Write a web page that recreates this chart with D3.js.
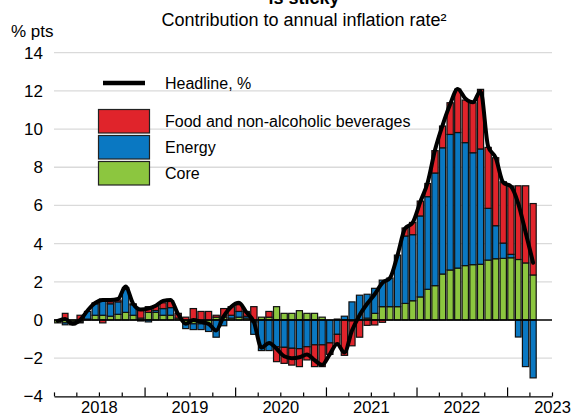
<!DOCTYPE html>
<html><head><meta charset="utf-8">
<script src="https://cdn.jsdelivr.net/npm/d3@7"></script>
<style>
body{margin:0;background:#fff}
text{font-family:"Liberation Sans",Arial,sans-serif;fill:#000}
</style>
</head><body>
<svg id="c" width="572" height="418"></svg>
<script>
// ---- data (monthly, Jan 2018 .. Apr 2023), % pts ----
const firstMonth = "2018-01";
const core = [
 -0.15,-0.15,-0.10,-0.10, 0.05, 0.25, 0.25, 0.20, 0.30, 0.40, 0.25, 0.10,
  0.40, 0.40, 0.25, 0.25, 0.10,-0.15,-0.20,-0.20,-0.20, 0.15, 0.15, 0.10,
  0.15, 0.10,-0.10, 0.15, 0.15, 0.70, 0.35, 0.35, 0.49, 0.35, 0.35, 0.15,
  0.00, 0.05, 0.00,-0.05, 0.00, 0.10, 0.35, 0.70, 0.70, 0.70, 0.87, 1.01,
  1.21, 1.61, 1.80, 2.41, 2.62, 2.72, 2.85, 2.90, 2.92, 3.14, 3.21, 3.23,
  3.26, 3.17, 2.99, 2.36];
const energy = [
  0.00,-0.10,-0.15,-0.05, 0.40, 0.60, 0.85, 0.65, 0.65, 1.20, 0.55,-0.05,
 -0.10, 0.10, 0.35, 0.40, 0.00,-0.30,-0.30,-0.30,-0.40,-0.90,-0.30, 0.15,
  0.30, 0.10,-0.65,-1.60,-1.60,-1.40,-1.43,-1.48,-1.50,-1.40,-1.30,-1.30,
 -1.20,-0.75, 0.20, 0.95, 1.30, 1.25, 1.31, 1.39, 1.50, 2.70, 3.53, 3.46,
  4.24, 4.85, 5.90, 6.61, 7.10, 7.10, 6.44, 5.86, 6.04, 2.71, 1.73, 0.80,
  0.18,-0.89,-2.44,-3.03];
const food = [
  0.00, 0.35, 0.00, 0.25, 0.00, 0.05,-0.15, 0.10, 0.10, 0.10, 0.05, 0.40,
  0.30, 0.25, 0.30, 0.35, 0.25, 0.15, 0.60, 0.45, 0.45, 0.10, 0.45, 0.45,
  0.35, 0.25, 0.70, 0.00, 0.30,-0.78,-0.84,-0.88,-0.94,-0.69,-1.14,-1.14,
 -0.60,-0.47,-1.85,-1.30,-0.90,-0.28,-0.26,-0.12, 0.00, 0.00, 0.42, 0.64,
  0.78, 0.69, 1.17, 1.14, 1.66, 2.27, 2.23, 2.62, 3.12, 3.19, 3.56, 3.21,
  3.58, 3.86, 4.04, 3.74];
const headline = [
 -0.05, 0.05,-0.20, 0.00, 0.50, 0.90, 1.05, 1.05, 1.10, 1.75, 0.85, 0.55,
  0.60, 0.75, 1.00, 1.05, 0.30,-0.20, 0.00,-0.10,-0.20,-0.55, 0.20, 0.70,
  0.90, 0.40,-0.10,-1.45,-1.20,-1.50,-1.90,-2.00,-1.95,-1.80,-2.10,-2.35,
 -1.80,-1.25,-1.70,-0.55, 0.25, 0.85, 1.35, 1.95, 2.20, 3.40, 4.80, 5.10,
  6.20, 7.20, 8.90,10.20,11.30,12.10,11.60,11.40,12.00, 9.10, 8.50, 7.20,
  7.00, 6.10, 4.60, 3.00];
const yTicks = [-4,-2,0,2,4,6,8,10,12,14];
const yearLabels = ["2018","2019","2020","2021","2022","2023"];
const legendLabels = ["Headline, %","Food and non-alcoholic beverages","Energy","Core"];
const keys = ["core","energy","food"];
const colors = {core:"#8cc63f", energy:"#0a78c2", food:"#e0242b"};

// ---- chart ----
const svg = d3.select("#c");
const parse = d3.timeParse("%Y-%m");
const t0 = parse(firstMonth);
const months = core.map((_, i) => d3.timeMonth.offset(t0, i));
const rows = months.map((m, i) => ({date: m, core: core[i], energy: energy[i], food: food[i], headline: headline[i]}));

const x = d3.scaleTime().domain([t0, d3.timeMonth.offset(t0, 66)]).range([54, 552]);
const y = d3.scaleLinear().domain([-4, 14]).range([396.4, 52.7]);
const mid = d => (x(d) + x(d3.timeMonth.offset(d, 1))) / 2;
const mw = d => x(d3.timeMonth.offset(d, 1)) - x(d);

// gridlines
svg.append("g").selectAll("line").data(yTicks.filter(v => v !== 0 && v !== -4)).join("line")
  .attr("x1", 54).attr("x2", 552).attr("y1", d => y(d)).attr("y2", d => y(d))
  .attr("stroke", "#dadada").attr("stroke-width", 1.3);

// y labels
const ya = svg.append("g").attr("transform", "translate(43,0)")
  .call(d3.axisLeft(y).tickValues(yTicks).tickSize(0).tickPadding(0).tickFormat(d3.format("d")));
ya.select(".domain").remove();
ya.selectAll("text").attr("font-size", 17).style("font-family", "Liberation Sans, Arial, sans-serif");

// stacked bars
const series = d3.stack().keys(keys).offset(d3.stackOffsetDiverging)(rows);
svg.append("g").selectAll("g").data(series).join("g")
  .attr("fill", s => colors[s.key])
  .selectAll("rect").data(s => s).join("rect")
  .attr("x", d => mid(d.data.date) - mw(d.data.date) * 0.41)
  .attr("width", d => mw(d.data.date) * 0.82)
  .attr("y", d => y(Math.max(d[0], d[1])))
  .attr("height", d => Math.abs(y(d[0]) - y(d[1])))
  .attr("stroke", "#111").attr("stroke-width", 1.2);

// zero line
svg.append("line").attr("x1", 54).attr("x2", 552).attr("y1", y(0)).attr("y2", y(0))
  .attr("stroke", "#000").attr("stroke-width", 1.5);

// headline line
svg.append("path").datum(rows)
  .attr("fill", "none").attr("stroke", "#000").attr("stroke-width", 4)
  .attr("stroke-linejoin", "round").attr("stroke-linecap", "round")
  .attr("d", d3.line().x(d => mid(d.date)).y(d => y(d.headline)).curve(d3.curveMonotoneX));

// x axis with quarterly ticks (upward), taller at year starts
const qTicks = d3.timeMonth.every(3).range(t0, d3.timeMonth.offset(t0, 67));
const xa = svg.append("g").attr("transform", `translate(0,${y(-4)})`)
  .call(d3.axisBottom(x).tickValues(qTicks).tickSizeInner(-4).tickSizeOuter(0).tickFormat(""));
xa.select(".domain").attr("stroke", "#000").attr("stroke-width", 1.4);
xa.selectAll(".tick line").attr("stroke", "#000").attr("stroke-width", 1.2)
  .attr("y2", d => (d.getMonth() === 0 && d > t0) ? -9 : -4);

const labelDates = yearLabels.map(s => parse(s + "-07"));
const xl = svg.append("g").attr("transform", `translate(0,${y(-4)})`)
  .call(d3.axisBottom(x).tickValues(labelDates).tickSize(0).tickPadding(5).tickFormat((d, i) => yearLabels[i]));
xl.select(".domain").remove();
xl.selectAll("text").attr("font-size", 16.5).style("font-family", "Liberation Sans, Arial, sans-serif");

// titles
svg.append("text").attr("x", 304).attr("y", 4).attr("text-anchor", "middle")
  .attr("font-size", 18).attr("font-weight", "bold").text("is sticky");
svg.append("text").attr("x", 304).attr("y", 26).attr("text-anchor", "middle")
  .attr("font-size", 18).text("Contribution to annual inflation rate²");
svg.append("text").attr("x", 11).attr("y", 37).attr("font-size", 17).text("% pts");

// legend
const lg = svg.append("g");
lg.append("line").attr("x1", 103).attr("x2", 145).attr("y1", 83).attr("y2", 83)
  .attr("stroke", "#000").attr("stroke-width", 4.5);
lg.append("text").attr("x", 165).attr("y", 83).attr("dy", "0.35em").attr("font-size", 16).text(legendLabels[0]);
const sw = [["food", 1], ["energy", 2], ["core", 3]];
sw.forEach(([k, i], j) => {
  const yy = 109.5 + j * 26;
  lg.append("rect").attr("x", 98.5).attr("y", yy).attr("width", 51).attr("height", 23.5)
    .attr("fill", colors[k]).attr("stroke", "#222").attr("stroke-width", 1.2);
  lg.append("text").attr("x", 165).attr("y", yy + 12).attr("dy", "0.35em").attr("font-size", 16).text(legendLabels[i]);
});
</script>
</body></html>
